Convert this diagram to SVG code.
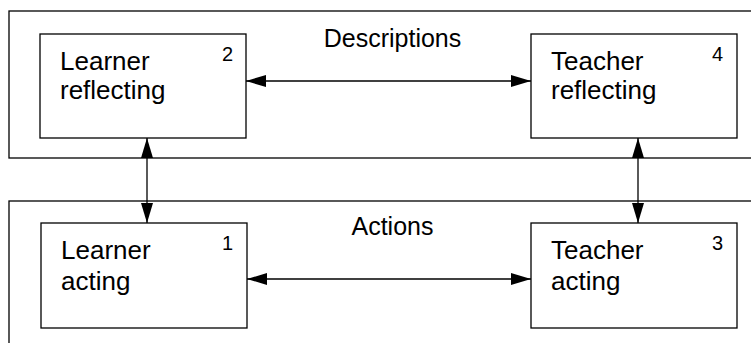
<svg xmlns="http://www.w3.org/2000/svg" width="751" height="343" viewBox="0 0 751 343">
<defs>
<marker id="ah" viewBox="0 0 20 12" refX="20" refY="6" markerWidth="20" markerHeight="12" markerUnits="userSpaceOnUse" orient="auto-start-reverse">
<path d="M0,0 L20,6 L0,12 Z" fill="#000"/>
</marker>
</defs>
<style>
.box{fill:#fff;stroke:#000;stroke-width:1.3}
.frame{fill:none;stroke:#000;stroke-width:1.3}
.t{font-family:"Liberation Sans",Arial,sans-serif;font-size:26px;fill:#000}
.n{font-family:"Liberation Sans",Arial,sans-serif;font-size:20px;fill:#000}
.h{font-family:"Liberation Sans",Arial,sans-serif;font-size:25px;fill:#000;text-anchor:middle}
.c{stroke:#000;stroke-width:1.3;fill:none;marker-start:url(#ah);marker-end:url(#ah)}
</style>
<rect width="751" height="343" fill="#fff"/>
<g id="descriptions">
<rect class="frame" x="9" y="11" width="760" height="147"/>
<text class="h" x="392.5" y="47">Descriptions</text>
</g>
<g id="actions">
<rect class="frame" x="9" y="201" width="760" height="160"/>
<text class="h" x="392.5" y="235">Actions</text>
</g>
<g id="learner-reflecting">
<rect class="box" x="40" y="34" width="206" height="104"/>
<text class="t" x="60" y="70">Learner</text>
<text class="t" x="60" y="99">reflecting</text>
<text class="n" x="222" y="61">2</text>
</g>
<g id="teacher-reflecting">
<rect class="box" x="531" y="34" width="206" height="104"/>
<text class="t" x="551" y="70">Teacher</text>
<text class="t" x="551" y="99">reflecting</text>
<text class="n" x="712" y="61">4</text>
</g>
<g id="learner-acting">
<rect class="box" x="41" y="223" width="206" height="105"/>
<text class="t" x="61" y="259">Learner</text>
<text class="t" x="61" y="290">acting</text>
<text class="n" x="222" y="250">1</text>
</g>
<g id="teacher-acting">
<rect class="box" x="531" y="223" width="206" height="105"/>
<text class="t" x="551" y="259">Teacher</text>
<text class="t" x="551" y="290">acting</text>
<text class="n" x="712" y="250">3</text>
</g>
<g id="connectors">
<line class="c" x1="246" y1="81" x2="531" y2="81"/>
<line class="c" x1="247" y1="279" x2="531" y2="279"/>
<line class="c" x1="147" y1="138" x2="147" y2="223"/>
<line class="c" x1="638" y1="138" x2="638" y2="223"/>
</g>
</svg>
